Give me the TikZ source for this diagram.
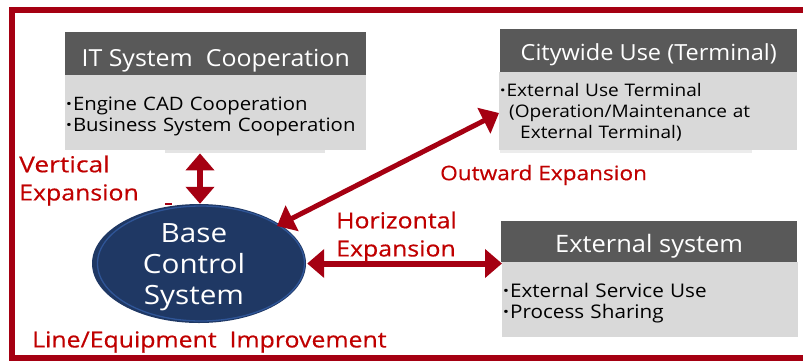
\documentclass[tikz,border=0pt]{standalone}
\usepackage{fontspec}
\setmainfont{Open Sans}
\newfontfamily\headfont[FakeStretch=1.06]{Open Sans}
\newfontfamily\bodyfont[FakeStretch=1.10]{Open Sans}
\newfontfamily\basefont[FakeStretch=1.12]{Open Sans}
\newfontfamily\redfont[FakeStretch=1.13,FakeBold=0.4]{Open Sans}
\newfontfamily\redwide[FakeStretch=1.2,FakeBold=0.4]{Open Sans}
\usetikzlibrary{arrows.meta,shapes.geometric}
\definecolor{framered}{HTML}{A50012}
\definecolor{labelred}{HTML}{C00000}
\definecolor{headgrey}{HTML}{595959}
\definecolor{bodygrey}{HTML}{D9D9D9}
\definecolor{basefill}{HTML}{1F3864}
\definecolor{basering}{HTML}{2F5597}
\newcommand{\lowertext}[2]{\smash{\raisebox{-#1}{#2}}}
\newcommand{\bul}{{\bfseries ·}\kern1pt}
\tikzset{
  x=1pt,y=-1pt,
  headbox/.style={fill=headgrey,text=white,inner sep=0pt,anchor=north west,font=\headfont\fontsize{23.5}{28}\selectfont},
  bodybox/.style={fill=bodygrey,text=black,inner sep=0pt,anchor=north west,align=left,font=\bodyfont\fontsize{18.5}{21.5}\selectfont},
  redlabel/.style={text=labelred,inner sep=0pt,align=left,font=\redfont\fontsize{22}{27}\selectfont},
  bothways/.style={draw=framered,line width=6pt,{Triangle[width=28pt,length=17pt]}-{Triangle[width=28pt,length=17pt]}},
  basenode/.style={ellipse,fill=basefill,text=white,inner sep=0pt,minimum width=214pt,minimum height=119pt,font=\basefont\fontsize{26.5}{31}\selectfont}
}
\begin{document}
\begin{tikzpicture}
\useasboundingbox (0,0) rectangle (803,360);
\fill[white] (0,0) rectangle (803,360);
\draw[framered,line width=6.5pt,line join=miter] (803,10) -- (12,10) -- (12,358) -- (803,358);
% faint shadows
\fill[bodygrey!70] (165,149) rectangle (325,153);
\fill[bodygrey!50] (500,149) rectangle (752,153);
\fill[framered] (165,203) rectangle (172,204.5);
% IT system box
\node[headbox,minimum width=301pt,minimum height=43pt] (ithead) at (65,32) {\lowertext{12.5pt}{IT System\ \ Cooperation}};
\node[bodybox,minimum width=301pt,minimum height=75pt,text width=301pt] (itbody) at (65,75)
  {\rule{0pt}{21pt}\hspace*{1pt}\bul Engine CAD Cooperation\\\hspace*{1pt}\bul Business System Cooperation};
% Citywide box
\node[headbox,minimum width=297pt,minimum height=43pt,font=\headfont\fontsize{22.2}{28}\selectfont] (cityhead) at (500,29) {\lowertext{9.5pt}{Citywide Use (Terminal)}};
\node[bodybox,minimum width=298pt,minimum height=78pt,text width=298pt,font=\bodyfont\fontsize{17.3}{21}\selectfont] (citybody) at (499,72)
  {\rule{0pt}{16pt}\hspace*{1pt}\bul External Use Terminal\\\hspace*{10pt}(Operation/Maintenance at\\\hspace*{21pt}External Terminal)};
% External box
\node[headbox,minimum width=296pt,minimum height=41pt,font=\headfont\fontsize{24}{28}\selectfont] (exthead) at (501,221) {\lowertext{11pt}{External system}};
\node[bodybox,minimum width=296pt,minimum height=75pt,text width=296pt,font=\bodyfont\fontsize{18.8}{21.5}\selectfont] (extbody) at (502,262)
  {\rule{0pt}{21pt}\hspace*{1pt}\bul External Service Use\\\hspace*{1pt}\bul Process Sharing};
% Base
\node[basenode] (base) at (199,263.5) {\kern-10pt\smash{\raisebox{-10pt}{\begin{tabular}{@{}c@{}}Base\\Control\\System\end{tabular}}}};
\draw[basering,line width=1.3pt] (201,263.5) ellipse [x radius=103.5pt,y radius=57.5pt];
% connectors
\coordinate (citytip) at (citybody.west |- 0,113);
\coordinate (basetip) at (277,226);
\path (base.north |- itbody.south) ++(1,3) coordinate (ittip);
\draw[bothways] (ittip) -- (ittip |- base.north);
\path (base.east) ++(1,0) coordinate (baseeast);
\draw[bothways] (baseeast) -- (baseeast -| extbody.west);
\draw[bothways,line width=5pt] (basetip) -- (citytip);
% labels
\node[redlabel,anchor=west,font=\redwide\fontsize{22}{27}\selectfont] (lv) at (19,164) {Vertical};
\node[redlabel,anchor=west] (le) at (19,195) {Expansion};
\node[redlabel,anchor=west] (lh) at (336,220) {Horizontal};
\node[redlabel,anchor=west] (lx) at (336,251) {Expansion};
\node[redlabel,anchor=west,font=\redfont\fontsize{20}{24}\selectfont] (lo) at (440,175) {Outward Expansion};
\node[redlabel,anchor=west] (ll) at (32,342) {Line/Equipment\ \ Improvement};
\end{tikzpicture}
\end{document}
